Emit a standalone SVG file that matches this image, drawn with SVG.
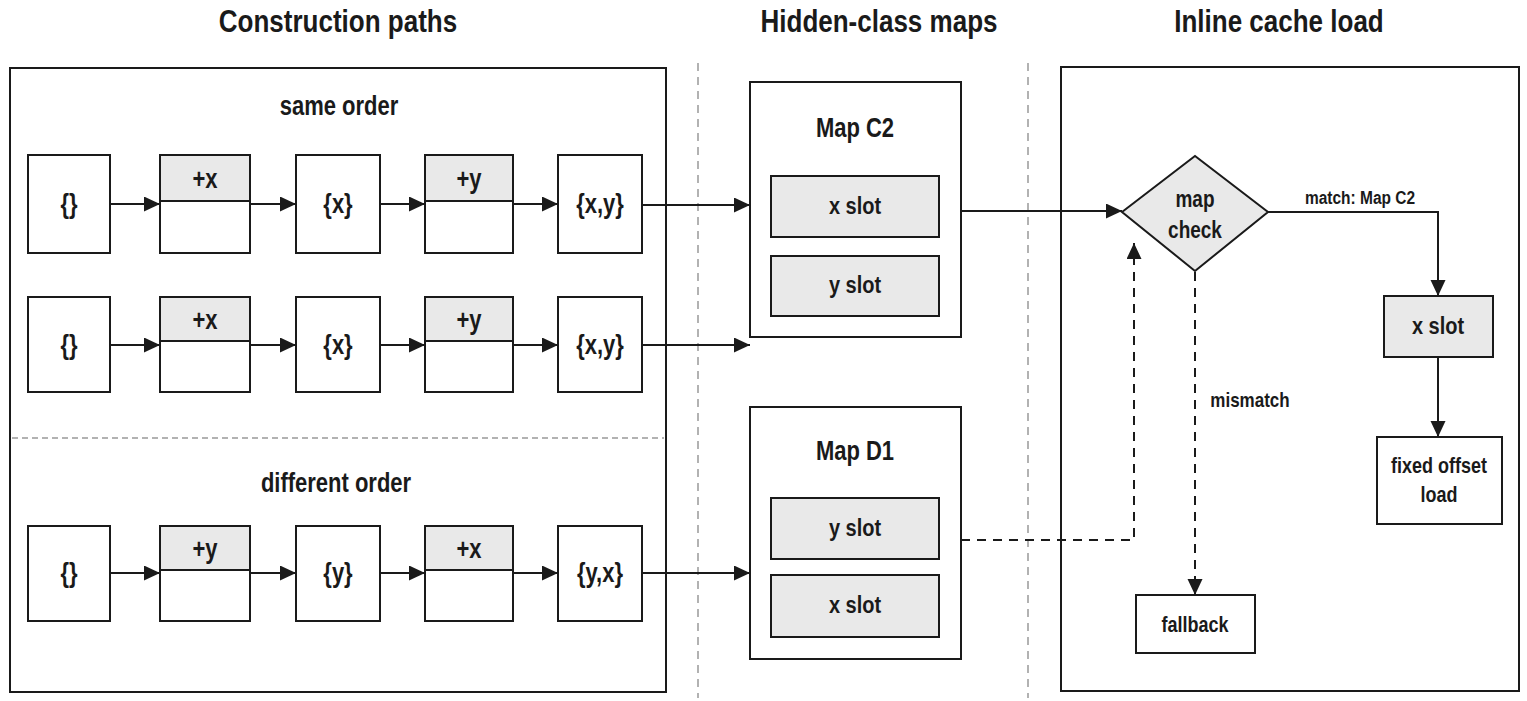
<svg xmlns="http://www.w3.org/2000/svg" width="1527" height="701" viewBox="0 0 1527 701">
<style>
text{font-family:"Liberation Sans",Arial,sans-serif;font-weight:bold;fill:#1a1a1a;text-anchor:middle;transform-box:fill-box;transform-origin:50% 50%;transform:scaleY(1.22)}
.title{font-size:26px}
.lbl{font-size:22px}
.slot{font-size:20px}
.box{fill:#fff;stroke:#1a1a1a;stroke-width:2}
.gray{fill:#e9e9e9;stroke:#1a1a1a;stroke-width:2}
.panel{fill:none;stroke:#1a1a1a;stroke-width:2}
.sep{fill:none;stroke:#999;stroke-width:1.5;stroke-dasharray:8 6}
.edge{fill:none;stroke:#1a1a1a;stroke-width:2}
.dash{stroke-dasharray:9 7}
</style>
<defs>
<marker id="ah" markerUnits="userSpaceOnUse" markerWidth="18" markerHeight="18" refX="16" refY="7.5" orient="auto">
<path d="M0,0 L16,7.5 L0,15 z" fill="#1a1a1a"/>
</marker>
</defs>
<rect width="1527" height="701" fill="#fff"/>

<g id="titles">
<text class="title" x="338" y="30">Construction paths</text>
<text class="title" x="879" y="30">Hidden-class maps</text>
<text class="title" x="1279" y="30">Inline cache load</text>
</g>

<g id="separators">
<line class="sep" x1="698" y1="63" x2="698" y2="698"/>
<line class="sep" x1="1028" y1="63" x2="1028" y2="698"/>
</g>

<g id="panel-construction">
<rect class="panel" x="10" y="68" width="656" height="624"/>
<line x1="12" y1="438" x2="664" y2="438" stroke="#999" stroke-width="1.5" stroke-dasharray="6 4"/>
<text class="lbl" x="339" y="113">same order</text>
<text class="lbl" x="336" y="490">different order</text>
</g>

<g id="panel-ic">
<rect class="panel" x="1061" y="67" width="458" height="624"/>
</g>

<!-- row 1 -->
<g id="r1-empty"><rect class="box" x="28" y="155" width="82" height="98"/><text class="lbl" x="69" y="211">{}</text></g>
<g id="r1-addx"><rect class="box" x="160" y="155" width="90" height="98"/><rect class="gray" x="160" y="155" width="90" height="46"/><text class="lbl" x="205" y="186">+x</text></g>
<g id="r1-x"><rect class="box" x="296" y="155" width="84" height="98"/><text class="lbl" x="338" y="211">{x}</text></g>
<g id="r1-addy"><rect class="box" x="425" y="155" width="88" height="98"/><rect class="gray" x="425" y="155" width="88" height="46"/><text class="lbl" x="469" y="186">+y</text></g>
<g id="r1-xy"><rect class="box" x="558" y="155" width="84" height="98"/><text class="lbl" x="600" y="211">{x,y}</text></g>

<!-- row 2 -->
<g id="r2-empty"><rect class="box" x="28" y="297" width="82" height="95"/><text class="lbl" x="69" y="352">{}</text></g>
<g id="r2-addx"><rect class="box" x="160" y="297" width="90" height="95"/><rect class="gray" x="160" y="297" width="90" height="44"/><text class="lbl" x="205" y="327">+x</text></g>
<g id="r2-x"><rect class="box" x="296" y="297" width="84" height="95"/><text class="lbl" x="338" y="352">{x}</text></g>
<g id="r2-addy"><rect class="box" x="425" y="297" width="88" height="95"/><rect class="gray" x="425" y="297" width="88" height="44"/><text class="lbl" x="469" y="327">+y</text></g>
<g id="r2-xy"><rect class="box" x="558" y="297" width="84" height="95"/><text class="lbl" x="600" y="352">{x,y}</text></g>

<!-- row 3 -->
<g id="r3-empty"><rect class="box" x="28" y="526" width="82" height="95"/><text class="lbl" x="69" y="580">{}</text></g>
<g id="r3-addy"><rect class="box" x="160" y="526" width="90" height="95"/><rect class="gray" x="160" y="526" width="90" height="44"/><text class="lbl" x="205" y="556">+y</text></g>
<g id="r3-y"><rect class="box" x="296" y="526" width="84" height="95"/><text class="lbl" x="338" y="580">{y}</text></g>
<g id="r3-addx"><rect class="box" x="425" y="526" width="88" height="95"/><rect class="gray" x="425" y="526" width="88" height="44"/><text class="lbl" x="469" y="556">+x</text></g>
<g id="r3-yx"><rect class="box" x="558" y="526" width="84" height="95"/><text class="lbl" x="600" y="580">{y,x}</text></g>

<!-- maps -->
<g id="map-c2">
<rect class="box" x="750" y="82" width="211" height="255"/>
<text class="lbl" x="855" y="135">Map C2</text>
<rect class="gray" x="771" y="176" width="168" height="61"/>
<text class="slot" x="855" y="213">x slot</text>
<rect class="gray" x="771" y="256" width="168" height="60"/>
<text class="slot" x="855" y="292">y slot</text>
</g>
<g id="map-d1">
<rect class="box" x="750" y="407" width="211" height="252"/>
<text class="lbl" x="855" y="458">Map D1</text>
<rect class="gray" x="771" y="498" width="168" height="61"/>
<text class="slot" x="855" y="535">y slot</text>
<rect class="gray" x="771" y="575" width="168" height="62"/>
<text class="slot" x="855" y="612">x slot</text>
</g>

<!-- inline cache -->
<g id="map-check">
<polygon class="gray" points="1122,212 1195,156 1268,212 1195,271"/>
<text x="1195" y="206" style="font-size:19px">map</text>
<text x="1195" y="237" style="font-size:19px">check</text>
</g>
<g id="ic-xslot">
<rect class="gray" x="1384" y="296" width="109" height="61"/>
<text class="slot" x="1438" y="333">x slot</text>
</g>
<g id="fixed-load">
<rect class="box" x="1377" y="437" width="125" height="87"/>
<text x="1439" y="472" style="font-size:18px">fixed offset</text>
<text x="1439" y="501" style="font-size:18px">load</text>
</g>
<g id="fallback">
<rect class="box" x="1136" y="595" width="119" height="58"/>
<text x="1195" y="631" style="font-size:18px">fallback</text>
</g>

<g id="connectors">
<line class="edge" x1="110" y1="204" x2="160" y2="204" marker-end="url(#ah)"/>
<line class="edge" x1="250" y1="204" x2="296" y2="204" marker-end="url(#ah)"/>
<line class="edge" x1="380" y1="204" x2="425" y2="204" marker-end="url(#ah)"/>
<line class="edge" x1="513" y1="204" x2="558" y2="204" marker-end="url(#ah)"/>
<line class="edge" x1="642" y1="205" x2="750" y2="205" marker-end="url(#ah)"/>

<line class="edge" x1="110" y1="345" x2="160" y2="345" marker-end="url(#ah)"/>
<line class="edge" x1="250" y1="345" x2="296" y2="345" marker-end="url(#ah)"/>
<line class="edge" x1="380" y1="345" x2="425" y2="345" marker-end="url(#ah)"/>
<line class="edge" x1="513" y1="345" x2="558" y2="345" marker-end="url(#ah)"/>
<line class="edge" x1="642" y1="345" x2="750" y2="345" marker-end="url(#ah)"/>

<line class="edge" x1="110" y1="573" x2="160" y2="573" marker-end="url(#ah)"/>
<line class="edge" x1="250" y1="573" x2="296" y2="573" marker-end="url(#ah)"/>
<line class="edge" x1="380" y1="573" x2="425" y2="573" marker-end="url(#ah)"/>
<line class="edge" x1="513" y1="573" x2="558" y2="573" marker-end="url(#ah)"/>
<line class="edge" x1="642" y1="573" x2="750" y2="573" marker-end="url(#ah)"/>

<line class="edge" x1="961" y1="211" x2="1122" y2="211" marker-end="url(#ah)"/>
<polyline class="edge" points="1268,212 1438,212 1438,296" marker-end="url(#ah)"/>
<text x="1360" y="203" style="font-size:15.5px">match: Map C2</text>
<line class="edge" x1="1438" y1="357" x2="1438" y2="437" marker-end="url(#ah)"/>
<line class="edge dash" x1="1195" y1="272" x2="1195" y2="595" marker-end="url(#ah)"/>
<text x="1250" y="406" style="font-size:17px">mismatch</text>
<polyline class="edge dash" points="961,540 1134,540 1134,243" marker-end="url(#ah)"/>
</g>
</svg>
